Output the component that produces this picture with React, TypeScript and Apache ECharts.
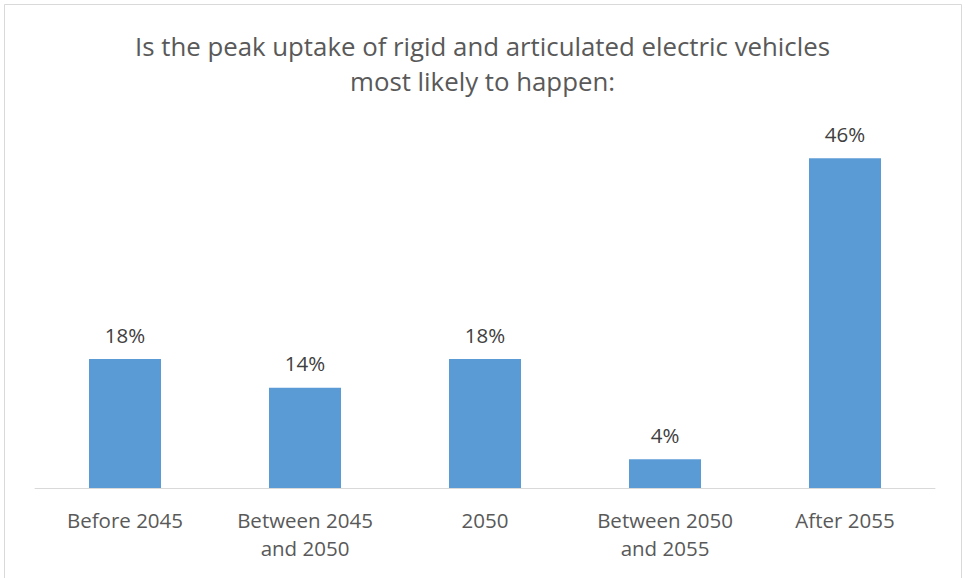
import React, { useEffect, useRef } from "react";
import * as echarts from "echarts";

const titleLines = [
  "Is the peak uptake of rigid and articulated electric vehicles",
  "most likely to happen:",
];
const categories = [
  "Before 2045",
  "Between 2045\nand 2050",
  "2050",
  "Between 2050\nand 2055",
  "After 2055",
];
const values = [18, 14, 18, 4, 46];

export default function App() {
  const ref = useRef<HTMLDivElement>(null);
  useEffect(() => {
    if (!ref.current) return;
    const chart = echarts.init(ref.current, undefined, { renderer: "svg" });
    chart.setOption({
      animation: false,
      backgroundColor: "#ffffff",
      textStyle: { fontFamily: "Open Sans" },
      title: {
        text: titleLines.join("\n"),
        left: "center",
        top: 23,
        textStyle: {
          fontFamily: "Open Sans",
          fontSize: 25.8,
          fontWeight: "normal",
          color: "#595959",
          lineHeight: 35,
        },
      },
      graphic: [
        {
          type: "rect",
          shape: { x: 4.5, y: 4.5, width: 957, height: 590 },
          style: { fill: "none", stroke: "#D9D9D9", lineWidth: 1 },
          silent: true,
        },
      ],
      grid: { left: 35, right: 30, top: 58, bottom: 90 },
      xAxis: {
        type: "category",
        data: categories,
        axisLine: { lineStyle: { color: "#D9D9D9", width: 1 } },
        axisTick: { show: false },
        axisLabel: {
          color: "#595959",
          fontSize: 20.5,
          fontFamily: "Open Sans",
          lineHeight: 28,
          margin: 18,
          interval: 0,
        },
      },
      yAxis: {
        type: "value",
        min: 0,
        max: 60,
        show: false,
        splitLine: { show: false },
      },
      series: [
        {
          type: "bar",
          data: values,
          barWidth: "40%",
          itemStyle: { color: "#5B9BD5" },
          label: {
            show: true,
            position: "top",
            distance: 14,
            formatter: "{c}%",
            color: "#404040",
            fontSize: 20.5,
            fontFamily: "Open Sans",
          },
        },
      ],
    });
    return () => chart.dispose();
  }, []);
  return (
    <div
      ref={ref}
      style={{ position: "absolute", left: 0, top: 0, width: 965, height: 578 }}
    />
  );
}
